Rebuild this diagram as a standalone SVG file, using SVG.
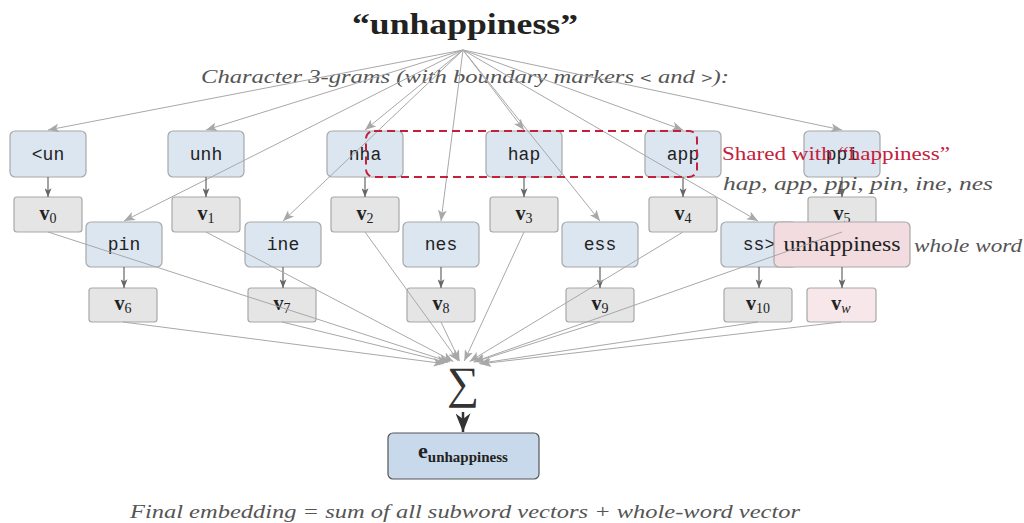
<svg xmlns="http://www.w3.org/2000/svg" width="1024" height="523" viewBox="0 0 1024 523">
<style>
.ng{fill:#dce6f1;stroke:#a8a8a8;stroke-width:1.2}
.vb{fill:#e5e5e5;stroke:#a8a8a8;stroke-width:1.2}
.pk{fill:#f2dce0;stroke:#a8a8a8;stroke-width:1.2}
.pv{fill:#f7e7ea;stroke:#a8a8a8;stroke-width:1.2}
.mono{font-family:"Liberation Mono","DejaVu Sans Mono",monospace;font-size:18px;fill:#222;text-anchor:middle}
.vl{font-family:"Liberation Serif","DejaVu Serif",serif;font-size:20px;font-weight:bold;fill:#222;text-anchor:middle}
.sub{font-size:14px;font-weight:normal}
.ser{font-family:"Liberation Serif","DejaVu Serif",serif}
.it{font-family:"Liberation Serif","DejaVu Serif",serif;font-style:italic;fill:#555}
.lg{stroke:#a8a8a8;stroke-width:1;fill:none;marker-end:url(#ah)}
.dk{stroke:#666;stroke-width:1.2;fill:none;marker-end:url(#ad)}
</style>
<defs>
<marker id="ah" viewBox="0 0 10 8" refX="10" refY="4" markerWidth="11" markerHeight="9" markerUnits="userSpaceOnUse" orient="auto">
<path d="M0,0 L10,4 L0,8 L2.5,4 z" fill="#a8a8a8"/>
</marker>
<marker id="ad" viewBox="0 0 10 8" refX="10" refY="4" markerWidth="9" markerHeight="7" markerUnits="userSpaceOnUse" orient="auto">
<path d="M0,0 L10,4 L0,8 L2.5,4 z" fill="#666"/>
</marker>
<marker id="ab" viewBox="0 0 10 8" refX="10" refY="4" markerWidth="21" markerHeight="15" markerUnits="userSpaceOnUse" orient="auto">
<path d="M0,0 L10,4 L0,8 L3,4 z" fill="#333"/>
</marker>
</defs>
<rect width="1024" height="523" fill="#fff"/>

<text x="465" y="34" class="ser" font-size="30" font-weight="bold" fill="#222" text-anchor="middle" textLength="226" lengthAdjust="spacingAndGlyphs">“unhappiness”</text>
<text x="465" y="83" class="it" font-size="19" text-anchor="middle" textLength="528" lengthAdjust="spacingAndGlyphs">Character 3-grams (with boundary markers <tspan font-family="Liberation Mono, monospace" font-style="normal" font-size="15">&lt;</tspan> and <tspan font-family="Liberation Mono, monospace" font-style="normal" font-size="15">&gt;</tspan>):</text>

<g id="n-lun"><rect class="ng" x="10" y="131" width="76" height="46" rx="5"/><text class="mono" x="48" y="160">&lt;un</text></g>
<g id="n-unh"><rect class="ng" x="168" y="131" width="76" height="46" rx="5"/><text class="mono" x="206" y="160">unh</text></g>
<g id="n-nha"><rect class="ng" x="327" y="131" width="76" height="46" rx="5"/><text class="mono" x="365" y="160">nha</text></g>
<g id="n-hap"><rect class="ng" x="486" y="131" width="76" height="46" rx="5"/><text class="mono" x="524" y="160">hap</text></g>
<g id="n-app"><rect class="ng" x="645" y="131" width="76" height="46" rx="5"/><text class="mono" x="683" y="160">app</text></g>
<g id="n-ppi"><rect class="ng" x="804" y="131" width="76" height="46" rx="5"/><text class="mono" x="842" y="160">ppi</text></g>

<g id="v0"><rect class="vb" x="14" y="197" width="68" height="35" rx="3"/><text class="vl" x="48" y="220">v<tspan class="sub" dy="3">0</tspan></text></g>
<g id="v1"><rect class="vb" x="172" y="197" width="68" height="35" rx="3"/><text class="vl" x="206" y="220">v<tspan class="sub" dy="3">1</tspan></text></g>
<g id="v2"><rect class="vb" x="331" y="197" width="68" height="35" rx="3"/><text class="vl" x="365" y="220">v<tspan class="sub" dy="3">2</tspan></text></g>
<g id="v3"><rect class="vb" x="490" y="197" width="68" height="35" rx="3"/><text class="vl" x="524" y="220">v<tspan class="sub" dy="3">3</tspan></text></g>
<g id="v4"><rect class="vb" x="649" y="197" width="68" height="35" rx="3"/><text class="vl" x="683" y="220">v<tspan class="sub" dy="3">4</tspan></text></g>
<g id="v5"><rect class="vb" x="808" y="197" width="68" height="35" rx="3"/><text class="vl" x="842" y="220">v<tspan class="sub" dy="3">5</tspan></text></g>

<g id="n-pin"><rect class="ng" x="86" y="222" width="76" height="45" rx="5"/><text class="mono" x="124" y="250">pin</text></g>
<g id="n-ine"><rect class="ng" x="245" y="222" width="76" height="45" rx="5"/><text class="mono" x="283" y="250">ine</text></g>
<g id="n-nes"><rect class="ng" x="403" y="222" width="76" height="45" rx="5"/><text class="mono" x="441" y="250">nes</text></g>
<g id="n-ess"><rect class="ng" x="562" y="222" width="76" height="45" rx="5"/><text class="mono" x="600" y="250">ess</text></g>
<g id="n-ssr"><rect class="ng" x="721" y="222" width="76" height="45" rx="5"/><text class="mono" x="759" y="250">ss&gt;</text></g>
<g id="n-word"><rect class="pk" x="774" y="222" width="136" height="45" rx="5"/><text class="ser" x="842" y="251" font-size="20" fill="#222" text-anchor="middle" textLength="117" lengthAdjust="spacingAndGlyphs">unhappiness</text></g>

<g id="v6"><rect class="vb" x="89" y="288" width="68" height="34" rx="3"/><text class="vl" x="123" y="310">v<tspan class="sub" dy="3">6</tspan></text></g>
<g id="v7"><rect class="vb" x="248" y="288" width="68" height="34" rx="3"/><text class="vl" x="282" y="310">v<tspan class="sub" dy="3">7</tspan></text></g>
<g id="v8"><rect class="vb" x="407" y="288" width="68" height="34" rx="3"/><text class="vl" x="441" y="310">v<tspan class="sub" dy="3">8</tspan></text></g>
<g id="v9"><rect class="vb" x="566" y="288" width="68" height="34" rx="3"/><text class="vl" x="600" y="310">v<tspan class="sub" dy="3">9</tspan></text></g>
<g id="v10"><rect class="vb" x="724" y="288" width="68" height="34" rx="3"/><text class="vl" x="758" y="310">v<tspan class="sub" dy="3">10</tspan></text></g>
<g id="vw"><rect class="pv" x="807" y="288" width="69" height="34" rx="3"/><text class="vl" x="841" y="310">v<tspan class="sub" dy="3" font-style="italic">w</tspan></text></g>

<g id="sum"><text class="ser" x="463" y="398" font-size="45" fill="#333" text-anchor="middle">∑</text></g>

<g id="emb"><rect x="388" y="433" width="151" height="46" rx="5" fill="#c8d9eb" stroke="#555" stroke-width="1.2"/><text class="ser" x="463" y="458" font-size="22" font-weight="bold" fill="#222" text-anchor="middle">e<tspan font-size="15" dy="4">unhappiness</tspan></text></g>

<g id="connectors">
<line class="lg" x1="463" y1="50" x2="48" y2="130"/>
<line class="lg" x1="463" y1="50" x2="206" y2="130"/>
<line class="lg" x1="463" y1="50" x2="365" y2="130"/>
<line class="lg" x1="463" y1="50" x2="524" y2="130"/>
<line class="lg" x1="463" y1="50" x2="683" y2="130"/>
<line class="lg" x1="463" y1="50" x2="842" y2="130"/>
<line class="lg" x1="463" y1="50" x2="124" y2="221"/>
<line class="lg" x1="463" y1="50" x2="283" y2="221"/>
<line class="lg" x1="463" y1="50" x2="441" y2="221"/>
<line class="lg" x1="463" y1="50" x2="600" y2="221"/>
<line class="lg" x1="463" y1="50" x2="758" y2="221"/>

<line class="dk" x1="48" y1="177" x2="48" y2="197"/>
<line class="dk" x1="206" y1="177" x2="206" y2="197"/>
<line class="dk" x1="365" y1="177" x2="365" y2="197"/>
<line class="dk" x1="524" y1="177" x2="524" y2="197"/>
<line class="dk" x1="683" y1="177" x2="683" y2="197"/>
<line class="dk" x1="842" y1="177" x2="842" y2="197"/>
<line class="dk" x1="124" y1="267" x2="124" y2="288"/>
<line class="dk" x1="283" y1="267" x2="283" y2="288"/>
<line class="dk" x1="441" y1="267" x2="441" y2="288"/>
<line class="dk" x1="600" y1="267" x2="600" y2="288"/>
<line class="dk" x1="759" y1="267" x2="759" y2="288"/>
<line class="dk" x1="842" y1="267" x2="842" y2="288"/>

<line class="lg" x1="48" y1="232" x2="449.8" y2="362"/>
<line class="lg" x1="206" y1="232" x2="453.4" y2="361.5"/>
<line class="lg" x1="365" y1="232" x2="458.4" y2="361.1"/>
<line class="lg" x1="524" y1="232" x2="464.3" y2="361"/>
<line class="lg" x1="683" y1="232" x2="469.6" y2="361.4"/>
<line class="lg" x1="842" y1="232" x2="473.6" y2="361.9"/>
<line class="lg" x1="123" y1="322" x2="444.3" y2="363.7"/>
<line class="lg" x1="282" y1="322" x2="447.7" y2="362.5"/>
<line class="lg" x1="441" y1="322" x2="459.6" y2="361"/>
<line class="lg" x1="600" y1="322" x2="474.3" y2="362.1"/>
<line class="lg" x1="758" y1="322" x2="479.2" y2="363.4"/>
<line class="lg" x1="841" y1="322" x2="480.2" y2="363.9"/>

<line x1="463" y1="412" x2="463" y2="432" stroke="#333" stroke-width="2.5" marker-end="url(#ab)"/>
</g>

<rect x="366" y="131" width="331" height="46" rx="8" fill="none" stroke="#c3203c" stroke-width="2" stroke-dasharray="8,5"/>

<text x="722" y="160" class="ser" font-size="18" fill="#c3203c" textLength="228" lengthAdjust="spacingAndGlyphs">Shared with “happiness”</text>
<text x="723" y="190" class="it" font-size="18" textLength="270" lengthAdjust="spacingAndGlyphs">hap, app, ppi, pin, ine, nes</text>
<text x="914" y="252" class="it" font-size="19" textLength="108" lengthAdjust="spacingAndGlyphs">whole word</text>
<text x="465" y="518" class="it" font-size="19" text-anchor="middle" textLength="670" lengthAdjust="spacingAndGlyphs">Final embedding = sum of all subword vectors + whole-word vector</text>
</svg>
